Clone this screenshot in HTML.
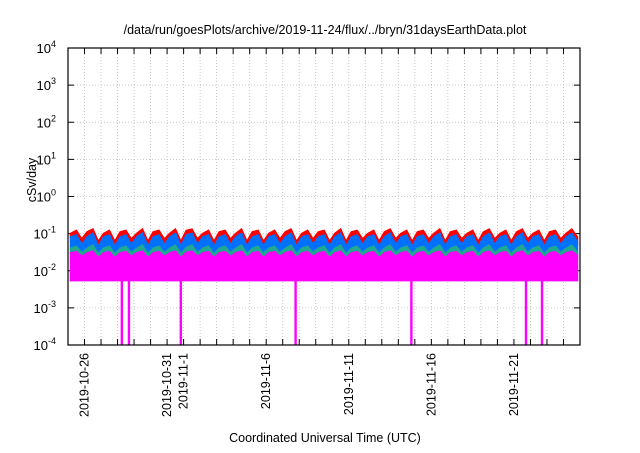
<!DOCTYPE html>
<html><head><meta charset="utf-8"><style>
body{margin:0;background:#fff}
svg text{font-family:"Liberation Sans",sans-serif;fill:#000}
</style></head><body>
<svg id="chart" width="640" height="448" viewBox="0 0 640 448" xmlns="http://www.w3.org/2000/svg">
<text x="325" y="34" font-size="12.5" text-anchor="middle">/data/run/goesPlots/archive/2019-11-24/flux/../bryn/31daysEarthData.plot</text>
<text x="325" y="442" font-size="12.5" text-anchor="middle">Coordinated Universal Time (UTC)</text>
<text transform="translate(36,180) rotate(-90)" font-size="12.5" text-anchor="middle">cSv/day</text>
<g id="plot"></g>
</svg>
<script>
// 3 samples per day (8h bins) starting 2019-10-25 00:00
const redHi=[0.10,0.12,0.07, 0.11,0.13,0.06, 0.10,0.12,0.06, 0.11,0.12,0.07, 0.10,0.13,0.06, 0.11,0.12,0.07, 0.10,0.13,0.06, 0.12,0.13,0.07,
 0.10,0.12,0.06, 0.11,0.12,0.07, 0.10,0.13,0.06, 0.11,0.12,0.06, 0.10,0.12,0.07, 0.11,0.13,0.06, 0.10,0.12,0.07, 0.11,0.12,0.06,
 0.10,0.13,0.06, 0.11,0.12,0.07, 0.10,0.12,0.06, 0.11,0.13,0.07, 0.10,0.12,0.06, 0.11,0.12,0.07, 0.10,0.13,0.06, 0.11,0.12,0.07,
 0.10,0.12,0.06, 0.11,0.13,0.07, 0.10,0.12,0.06, 0.11,0.13,0.07, 0.10,0.12,0.06, 0.11,0.12,0.07, 0.10,0.13,0.08];
const blueHi=[0.08,0.09,0.05, 0.08,0.10,0.045, 0.08,0.09,0.045, 0.08,0.09,0.05, 0.08,0.10,0.045, 0.08,0.09,0.05, 0.08,0.10,0.045, 0.09,0.10,0.05,
 0.08,0.09,0.045, 0.08,0.09,0.05, 0.08,0.10,0.045, 0.08,0.09,0.045, 0.08,0.09,0.05, 0.08,0.10,0.045, 0.08,0.09,0.05, 0.08,0.09,0.045,
 0.08,0.10,0.045, 0.08,0.09,0.05, 0.08,0.09,0.045, 0.08,0.10,0.05, 0.08,0.09,0.045, 0.08,0.09,0.05, 0.08,0.10,0.045, 0.08,0.09,0.05,
 0.08,0.09,0.045, 0.08,0.10,0.05, 0.08,0.09,0.045, 0.08,0.10,0.05, 0.08,0.09,0.045, 0.08,0.09,0.05, 0.08,0.10,0.06];
const greenHi=[0.040,0.045,0.030, 0.040,0.048,0.028, 0.040,0.045,0.028, 0.040,0.045,0.030, 0.040,0.048,0.028, 0.040,0.045,0.030, 0.040,0.048,0.028, 0.042,0.048,0.030,
 0.040,0.045,0.028, 0.040,0.045,0.030, 0.040,0.048,0.028, 0.040,0.045,0.028, 0.040,0.045,0.030, 0.040,0.048,0.028, 0.040,0.045,0.030, 0.040,0.045,0.028,
 0.040,0.048,0.028, 0.040,0.045,0.030, 0.040,0.045,0.028, 0.040,0.048,0.030, 0.040,0.045,0.028, 0.040,0.045,0.030, 0.040,0.048,0.028, 0.040,0.045,0.030,
 0.040,0.045,0.028, 0.040,0.048,0.030, 0.040,0.045,0.028, 0.040,0.048,0.030, 0.040,0.045,0.028, 0.040,0.045,0.030, 0.040,0.048,0.032];
const magHi=[0.030,0.032,0.024, 0.030,0.033,0.022, 0.030,0.032,0.022, 0.030,0.032,0.024, 0.030,0.033,0.022, 0.030,0.032,0.024, 0.030,0.033,0.022, 0.031,0.033,0.024,
 0.030,0.032,0.022, 0.030,0.032,0.024, 0.030,0.033,0.022, 0.030,0.032,0.022, 0.030,0.032,0.024, 0.030,0.033,0.022, 0.030,0.032,0.024, 0.030,0.032,0.022,
 0.030,0.033,0.022, 0.030,0.032,0.024, 0.030,0.032,0.022, 0.030,0.033,0.024, 0.030,0.032,0.022, 0.030,0.032,0.024, 0.030,0.033,0.022, 0.030,0.032,0.024,
 0.030,0.032,0.022, 0.030,0.033,0.024, 0.030,0.032,0.022, 0.030,0.033,0.024, 0.030,0.032,0.022, 0.030,0.032,0.024, 0.030,0.033,0.026];
const magLo=0.0055;
const dropDays=[3.26,3.69,6.83,13.78,20.79,27.73,28.7];
const yTickExp=[4,3,2,1,0,-1,-2,-3,-4];
const xTickLabels=[{d:1,t:"2019-10-26"},{d:6,t:"2019-10-31"},{d:7,t:"2019-11-1"},{d:12,t:"2019-11-6"},{d:17,t:"2019-11-11"},{d:22,t:"2019-11-16"},{d:27,t:"2019-11-21"}];
const nDays=31;

const L=68,R=580,T=48,B=345;
const NS="http://www.w3.org/2000/svg";
const xs=d=>L+(R-L)*d/nDays;
const ys=v=>B-(B-T)*(Math.log10(v)+4)/8;
const g=document.getElementById('plot');
function mk(tag,attrs,parent){const e=document.createElementNS(NS,tag);for(const k in attrs)e.setAttribute(k,attrs[k]);(parent||g).appendChild(e);return e;}

// grid
for(let d=1;d<nDays;d++){const l=mk('line',{x1:xs(d),x2:xs(d),y1:T,y2:B,stroke:'#bbb','stroke-dasharray':'1,2','stroke-width':0.8});
}
yTickExp.forEach(e=>{const y=ys(Math.pow(10,e));
 if(e>-4&&e<4){const l=mk('line',{x1:L,x2:R,y1:y,y2:y,stroke:'#bbb','stroke-dasharray':'1,2','stroke-width':0.8});
 }
 const t=mk('text',{x:56,y:y+5,'font-size':13,'text-anchor':'end'});
 
 t.appendChild(document.createTextNode('10'));
 const s=mk('tspan',{dy:-6,'font-size':9},t);s.textContent=String(e);
 [L,R-6].forEach(x0=>mk('line',{x1:x0,x2:x0+6,y1:y,y2:y,stroke:'#000'}));
});
// series areas
const n=redHi.length, step=nDays/n;
function area(hi,lo,color,name){
 let p='';for(let i=0;i<n;i++){p+=(i?'L':'M')+xs((i+0.5)*step)+','+ys(hi[i]);}
 for(let i=n-1;i>=0;i--){p+='L'+xs((i+0.5)*step)+','+ys(Array.isArray(lo)?lo[i]:lo);}
 const e=mk('path',{d:p+'Z',fill:color,stroke:color,'stroke-width':2});
 
}
area(redHi,blueHi,'#ff0000','series-red');
area(blueHi,greenHi,'#0070ff','series-blue');
area(greenHi,magHi,'#20a890','series-green');
area(magHi,magLo,'#ff00ff','series-magenta');
dropDays.forEach(d=>{const e=mk('rect',{x:xs(d)-1.2,y:ys(magLo),width:2.4,height:B-ys(magLo),fill:'#ff00ff'});
 });
// x ticks
for(let d=1;d<nDays;d++){mk('line',{x1:xs(d),x2:xs(d),y1:B,y2:B-6,stroke:'#000'});mk('line',{x1:xs(d),x2:xs(d),y1:T,y2:T+6,stroke:'#000'});}
xTickLabels.forEach(o=>{const t=mk('text',{transform:`translate(${xs(o.d)+4},${B+8}) rotate(-90)`,'font-size':12.5,'text-anchor':'end'});
 t.textContent=o.t;});
const fr=mk('rect',{x:L,y:T,width:R-L,height:B-T,fill:'none',stroke:'#000','stroke-width':1.2});

</script>
</body></html>
